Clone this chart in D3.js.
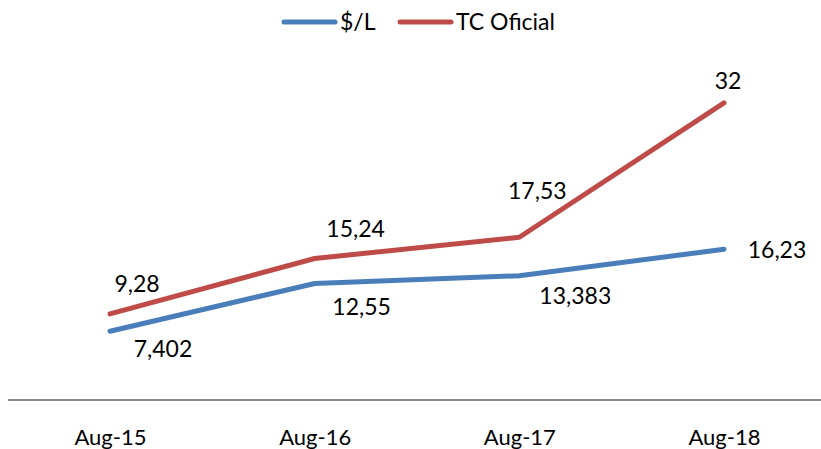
<!DOCTYPE html>
<html><head><meta charset="utf-8">
<script src="https://cdn.jsdelivr.net/npm/d3@7"></script>
<style>body{margin:0;background:#fff}svg{display:block}text{font-family:Lato,"Open Sans",sans-serif;fill:#000}</style>
</head><body><svg id="c" width="821" height="449"></svg>
<script>
const categories = ["Aug-15","Aug-16","Aug-17","Aug-18"];
const seriesNames = ["$/L","TC Oficial"];
const usdPerL = [7.402, 12.55, 13.383, 16.23];
const tcOficial = [9.28, 15.24, 17.53, 32];
const usdLabels = ["7,402","12,55","13,383","16,23"];
const tcLabels = ["9,28","15,24","17,53","32"];
const colors = ["#4A7EBB","#BE4B48"];
// label offsets (dx, dy) relative to point
const usdOffsets = [[53,18],[47,23],[56,20],[53,1]];
const tcOffsets = [[27,-30],[41,-30],[18,-46],[4,-22]];

const svg = d3.select("#c");
const x = d3.scalePoint().domain(categories).range([110,724]);
const y = d3.scaleLinear().domain([0,35]).range([400,75]);

svg.append("line").attr("x1",8).attr("x2",821).attr("y1",400).attr("y2",400)
  .attr("stroke","#868686").attr("stroke-width",2);
const xAxis = d3.axisBottom(x).tickSize(0).tickPadding(0);
const gx = svg.append("g").attr("transform","translate(0,400)").call(xAxis);
gx.select(".domain").remove();
gx.selectAll("text").attr("font-size",22).attr("font-family","Lato,'Open Sans',sans-serif")
  .attr("y",37).attr("dy","0.35em").attr("fill","#000");

const line = d3.line().x((d,i)=>x(categories[i])).y(d=>y(d));
const series = [
  {vals:usdPerL, labels:usdLabels, offs:usdOffsets, color:colors[0]},
  {vals:tcOficial, labels:tcLabels, offs:tcOffsets, color:colors[1]}
];
series.forEach(s=>{
  svg.append("path").datum(s.vals).attr("d",line).attr("fill","none")
    .attr("stroke",s.color).attr("stroke-width",5).attr("stroke-linecap","round").attr("stroke-linejoin","round");
  svg.append("g").selectAll("text").data(s.vals).join("text")
    .attr("x",(d,i)=>x(categories[i])+s.offs[i][0])
    .attr("y",(d,i)=>y(d)+s.offs[i][1])
    .attr("text-anchor","middle").attr("dy","0.35em").attr("font-size",23)
    .text((d,i)=>s.labels[i]);
});

// legend
const legend = [{name:seriesNames[0],x:284,color:colors[0]},{name:seriesNames[1],x:400,color:colors[1]}];
legend.forEach(l=>{
  svg.append("line").attr("x1",l.x).attr("x2",l.x+51).attr("y1",22).attr("y2",22)
    .attr("stroke",l.color).attr("stroke-width",5).attr("stroke-linecap","round");
  svg.append("text").attr("x",l.x+56).attr("y",22).attr("dy","0.35em").attr("font-size",23).text(l.name);
});
</script></body></html>
